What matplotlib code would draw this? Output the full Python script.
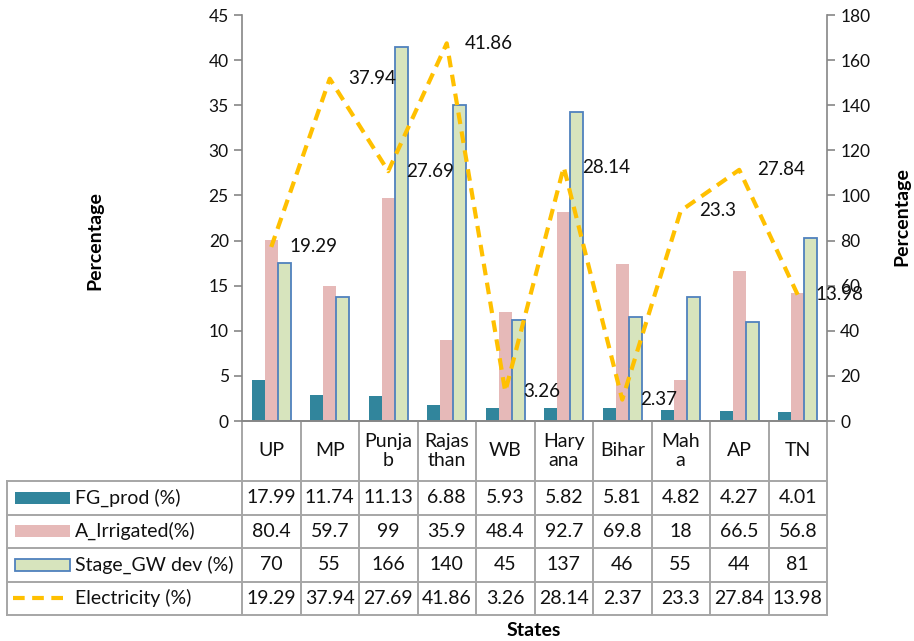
import matplotlib.pyplot as plt
import numpy as np
from matplotlib.patches import Rectangle

plt.rcParams['font.family'] = ['Lato', 'DejaVu Sans']

states = ['UP', 'MP', 'Punja\nb', 'Rajas\nthan', 'WB', 'Hary\nana', 'Bihar', 'Mah\na', 'AP', 'TN']
fg_prod = [17.99, 11.74, 11.13, 6.88, 5.93, 5.82, 5.81, 4.82, 4.27, 4.01]
a_irrigated = [80.4, 59.7, 99, 35.9, 48.4, 92.7, 69.8, 18, 66.5, 56.8]
stage_gw = [70, 55, 166, 140, 45, 137, 46, 55, 44, 81]
electricity = [19.29, 37.94, 27.69, 41.86, 3.26, 28.14, 2.37, 23.3, 27.84, 13.98]
series_names = ['FG_prod (%)', 'A_Irrigated(%)', 'Stage_GW dev (%)', 'Electricity (%)']

c_fg = '#31859C'
c_ai = '#E6B9B8'
c_gw = '#D7E4BD'
c_gw_edge = '#4F81BD'
c_el = '#FFC000'
grey = '#868686'
grid_c = '#A6A6A6'
txt_c = '#111111'

W, H = 914, 641
fig = plt.figure(figsize=(W / 100, H / 100), dpi=100)
L, R, T, B = 242, 827, 15, 421   # plot area in pixels
ax = fig.add_axes([L / W, 1 - B / H, (R - L) / W, (B - T) / H])
ax2 = ax.twinx()

x = np.arange(len(states))
bw = 0.22
ax2.bar(x - bw, fg_prod, bw, color=c_fg)
ax2.bar(x, a_irrigated, bw, color=c_ai)
ax2.bar(x + bw, stage_gw, bw, color=c_gw, edgecolor=c_gw_edge, linewidth=1.3)
ax2.set_ylim(0, 180)
ax2.set_yticks(range(0, 181, 20))

ax.plot(x, electricity, color=c_el, lw=3, dashes=(2.8, 1.8))
for xi, v in zip(x, electricity):
    ax.annotate(f'{v}', (xi, v), xytext=(13, 0), textcoords='offset points',
                ha='left', va='center', fontsize=13.5, color=txt_c)
ax.set_ylim(0, 45)
ax.set_yticks(range(0, 46, 5))
ax.set_xlim(-0.5, len(states) - 0.5)
ax2.set_xlim(-0.5, len(states) - 0.5)
ax.set_zorder(ax2.get_zorder() + 1)
ax.patch.set_visible(False)

for a in (ax, ax2):
    a.set_xticks([])
    a.spines['top'].set_visible(False)
    for s in a.spines.values():
        s.set_color(grey)
        s.set_linewidth(1.2)
    a.tick_params(axis='y', direction='out', length=6, color=grey, labelsize=12.5,
                  width=1.2, labelcolor=txt_c)
ax.spines['right'].set_visible(False)
ax2.spines['left'].set_visible(False)

# data table under the plot (built in pixel layout -> axes fraction)
def fx(px):
    return (px - L) / (R - L)

def fy(py):
    return (B - py) / (B - T)

n = len(states)
head_bot = 481
row_h = 33.5
rows_y = [head_bot + i * row_h for i in range(5)]
left_px = 7
kw = dict(transform=ax.transAxes, clip_on=False, color=grid_c, lw=1.4)
for i in range(n + 1):
    ax.plot([i / n, i / n], [fy(B), fy(rows_y[-1])], **kw)
ax.plot([fx(left_px)] * 2, [fy(rows_y[0]), fy(rows_y[-1])], **kw)
for yy in rows_y:
    ax.plot([fx(left_px), 1], [fy(yy), fy(yy)], **kw)

for i, s in enumerate(states):
    ax.text((i + 0.5) / n, fy((B + head_bot) / 2), s, transform=ax.transAxes,
            ha='center', va='center', fontsize=14, linespacing=1.1, color=txt_c)

table_vals = [fg_prod, a_irrigated, stage_gw, electricity]
for r, vals in enumerate(table_vals):
    yc = fy(rows_y[r] + row_h / 2)
    for i, v in enumerate(vals):
        ax.text((i + 0.5) / n, yc, str(v), transform=ax.transAxes,
                ha='center', va='center', fontsize=14, color=txt_c)
    ax.text(fx(75), yc, series_names[r], transform=ax.transAxes,
            ha='left', va='center', fontsize=14, color=txt_c)

# legend keys in the table
sw_x0, sw_x1, sw_h = 15, 70, 12
for r, (fc, ec) in enumerate([(c_fg, 'none'), (c_ai, 'none'), (c_gw, c_gw_edge)]):
    yc = rows_y[r] + row_h / 2
    ax.add_patch(Rectangle((fx(sw_x0), fy(yc + sw_h / 2)), fx(sw_x1) - fx(sw_x0),
                           fy(yc - sw_h / 2) - fy(yc + sw_h / 2), facecolor=fc,
                           edgecolor=ec, lw=1.3, transform=ax.transAxes, clip_on=False))
yc = rows_y[3] + row_h / 2
ax.plot([fx(13), fx(68)], [fy(yc), fy(yc)], color=c_el, lw=3, dashes=(2.8, 1.8),
        transform=ax.transAxes, clip_on=False)

fig.text(95 / W, 1 - 241 / H, 'Percentage', rotation=90, ha='center', va='center',
         fontsize=14, fontweight='bold')
fig.text(902 / W, 1 - 217 / H, 'Percentage', rotation=90, ha='center', va='center',
         fontsize=14, fontweight='bold')
fig.text(534 / W, 1 - 630 / H, 'States', ha='center', va='center',
         fontsize=14, fontweight='bold')

fig.savefig('out.png', dpi=100)
